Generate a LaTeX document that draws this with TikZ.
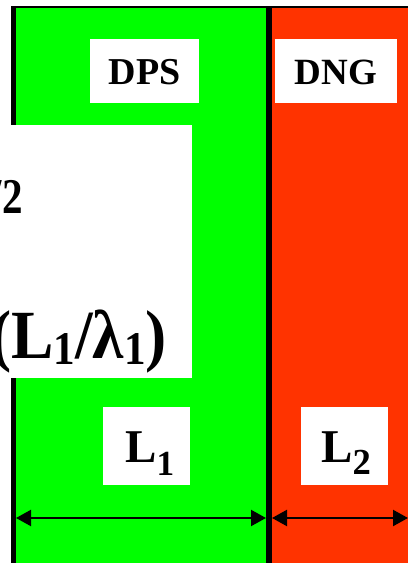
\documentclass[tikz,border=0pt]{standalone}
\usepackage{fontspec}
\usepackage{graphicx}
\setmainfont{Liberation Serif}
\usetikzlibrary{arrows.meta}
\newcommand\lowsub[3]{\raisebox{-#2}{\scalebox{#1}{#3}}}
\definecolor{dpsgreen}{RGB}{0,255,0}
\definecolor{dngred}{RGB}{255,51,0}
\begin{document}
\begin{tikzpicture}[x=1pt,y=-1pt,
  wbox/.style={fill=white, draw=none, inner sep=0pt},
  lbl/.style={inner sep=0pt, font=\bfseries},
  dim/.style={line width=2.2pt, {Triangle[length=15pt,width=16pt]}-{Triangle[length=15pt,width=16pt]}}]
\useasboundingbox (0,0) rectangle (408,563);
% layers
\fill[dpsgreen] (16,7) rectangle (266,563);
\fill[dngred] (272,7) rectangle (408,563);
\fill[black] (11,5.5) rectangle (408,8);
\fill[black] (11,5.5) rectangle (16,563);
\fill[black] (266,5.5) rectangle (272,563);
% big white panel
\node[wbox, minimum width=192pt, minimum height=253pt, anchor=north west] (eq) at (0,125) {};
\node[lbl, anchor=base east, font=\bfseries\fontsize{50}{52}\selectfont] (half) at (23,213) {\scalebox{0.82}[1]{/2}};
\node[lbl, anchor=base east, font=\bfseries\fontsize{69}{72}\selectfont] (ratio) at (167,358)
  {\scalebox{0.92}[1]{(L\lowsub{0.68}{0.1em}{1}/λ\lowsub{0.68}{0.1em}{1})}};
% labels
\node[wbox, minimum width=109pt, minimum height=64pt] (dps) at (144.5,71) {};
\node[lbl, font=\bfseries\fontsize{38}{40}\selectfont] (dpst) at (144.5,72.5) {DPS};
\node[wbox, minimum width=122pt, minimum height=64pt] (dng) at (336,71) {};
\node[lbl, font=\bfseries\fontsize{37}{40}\selectfont] (dngt) at (336,72.5) {DNG};
\node[wbox, minimum width=87pt, minimum height=78pt] (l1) at (146.5,446) {};
\node[lbl, anchor=base west, font=\bfseries\fontsize{47}{50}\selectfont] (l1t) at (125,462) {L\lowsub{0.75}{0.28em}{1}};
\node[wbox, minimum width=87pt, minimum height=78pt] (l2) at (344.5,446) {};
\node[lbl, anchor=base west, font=\bfseries\fontsize{47}{50}\selectfont] (l2t) at (321,462) {L\lowsub{0.78}{0.26em}{2}};
% dimension arrows
\coordinate (a1) at (16,518);
\coordinate (a2) at (266,518);
\coordinate (b1) at (272,518);
\coordinate (b2) at (408,518);
\draw[dim] (a1) -- (a2);
\draw[dim] (b1) -- (b2);
\end{tikzpicture}
\end{document}
